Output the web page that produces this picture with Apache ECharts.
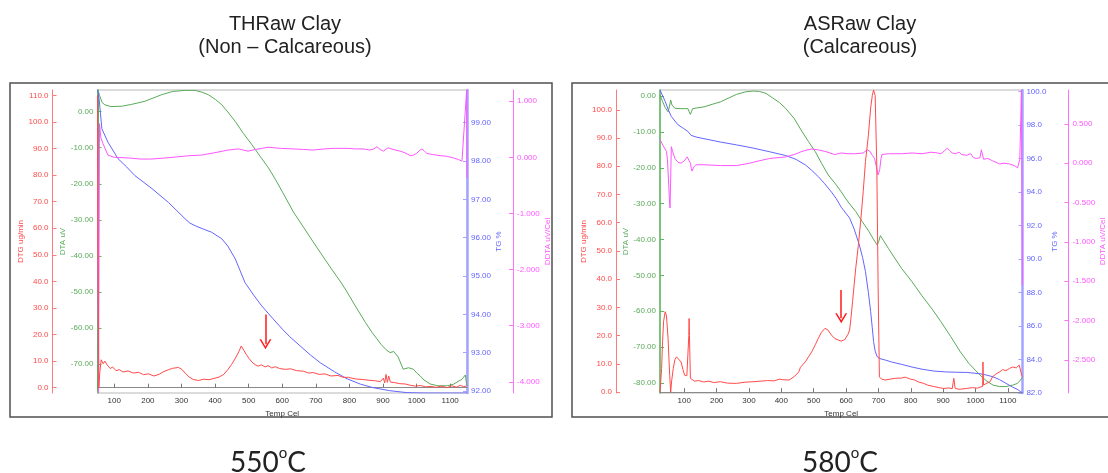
<!DOCTYPE html>
<html>
<head>
<meta charset="utf-8">
<script src="https://cdn.jsdelivr.net/npm/echarts@6.0.0/dist/echarts.min.js"></script>
<style>
  html, body { margin: 0; padding: 0; background: #fff; }
  #chart { width: 1108px; height: 473px; }
</style>
</head>
<body>
<div id="chart"></div>
<script>
const FONT = 'Liberation Sans'

// x axis (Temp Cel)
const tempTicks = [100, 200, 300, 400, 500, 600, 700, 800, 900, 1000, 1100]
const thTempRange = [50, 1150]
const asTempRange = [25, 1145]

// THRaw Clay (non calcareous) - [temp, value]
const thDtg = [[50, 110], [51, 60], [54, 0], [57, 6], [61, 10.5], [67, 9], [72, 10], [79, 8.5], [88, 7.2], [95, 7.8],
  [105, 6.4], [115, 6.8], [126, 5.9], [141, 6.3], [157, 5.5], [172, 5.8], [187, 4.9], [202, 5.2], [218, 4.4], [233, 5.0],
  [248, 6.1], [262, 6.8], [274, 7.3], [291, 7.6], [301, 6.9], [311, 5.5], [323, 4.0], [335, 3.1], [351, 2.7], [366, 3.2],
  [382, 3.0], [397, 3.5], [412, 4.0], [426, 5.0], [438, 6.8], [449, 8.7], [460, 11.0], [471, 13.6], [478, 15.7], [485, 14.2],
  [493, 12.5], [501, 11.0], [510, 9.6], [519, 8.7], [528, 8.1], [538, 8.6], [549, 7.8], [558, 8.3], [569, 7.4], [579, 7.9],
  [592, 7.2], [609, 6.9], [625, 7.1], [643, 6.4], [663, 6.2], [679, 5.5], [692, 5.7], [710, 5.0], [727, 5.2], [745, 4.4],
  [766, 4.6], [781, 3.9], [797, 3.9], [817, 3.3], [838, 3.1], [858, 2.8], [877, 2.6], [892, 2.3], [901, 3.6], [905, 1.8],
  [909, 5.0], [913, 2.0], [917, 4.4], [922, 2.1], [935, 1.9], [950, 1.5], [966, 1.4], [981, 0.9], [996, 0.6], [1012, 0.8],
  [1027, 0.3], [1043, 0.5], [1058, 0.1], [1073, 0.6], [1091, 0.0], [1104, 0.7], [1119, 0.2], [1130, 0.9], [1140, 0.4], [1148, 0.6]]
const thDta = [[50, -77], [53, 5.5], [56, 4.5], [64, 2.5], [72, 1.9], [90, 1.4], [122, 1.5], [151, 2.0], [192, 2.9], [241, 4.7],
  [274, 5.6], [311, 5.9], [341, 5.9], [361, 5.4], [380, 4.7], [402, 3.3], [420, 1.9], [438, -0.1], [460, -2.7], [484, -6.0],
  [510, -9.2], [535, -12.5], [559, -15.6], [581, -19.0], [602, -22.5], [633, -27.8], [663, -32.0], [692, -36.1], [715, -39.3],
  [745, -43.4], [776, -47.5], [793, -50], [817, -53.8], [848, -58.5], [868, -61.3], [882, -63], [894, -64.5], [909, -66],
  [921, -66.8], [932, -66.5], [945, -68], [960, -71.4], [976, -71.0], [990, -71.4], [1001, -72.5], [1011, -73.3], [1022, -74.4],
  [1040, -75.5], [1063, -76], [1091, -76], [1109, -75.6], [1120, -75], [1135, -74.2], [1145, -73], [1148, -75], [1150, -76]]
const thTg = [[50, 99.9], [55, 99.6], [63, 98.84], [81, 98.49], [111, 98.06], [136, 97.85], [161, 97.62], [212, 97.28],
  [261, 96.92], [311, 96.49], [325, 96.38], [341, 96.31], [366, 96.22], [390, 96.14], [420, 95.97], [438, 95.78], [460, 95.45],
  [475, 95.13], [489, 94.83], [515, 94.5], [539, 94.22], [571, 93.9], [602, 93.6], [622, 93.42], [653, 93.18], [684, 92.94],
  [713, 92.74], [756, 92.5], [793, 92.32], [833, 92.18], [870, 92.09], [920, 92.01], [971, 91.96], [1022, 91.95], [1150, 91.95]]
const thDdta = [[50, 0.5], [53, -4.2], [56, 0.6], [60, 0.35], [66, 0.25], [81, 0.04], [100, 0.0], [141, -0.01], [177, -0.03],
  [212, -0.03], [254, -0.01], [290, 0.01], [325, 0.03], [360, 0.04], [397, 0.08], [439, 0.13], [469, 0.15], [484, 0.13],
  [498, 0.11], [520, 0.14], [558, 0.18], [594, 0.16], [633, 0.15], [663, 0.14], [692, 0.13], [725, 0.15], [756, 0.16],
  [793, 0.16], [817, 0.15], [842, 0.15], [861, 0.13], [873, 0.15], [882, 0.19], [891, 0.14], [901, 0.11], [915, 0.17],
  [930, 0.14], [951, 0.11], [966, 0.08], [981, 0.03], [991, 0.04], [1000, 0.07], [1010, 0.13], [1016, 0.15], [1022, 0.12],
  [1030, 0.07], [1048, 0.05], [1070, 0.03], [1089, 0.02], [1110, -0.01], [1125, -0.04], [1135, -0.07], [1139, -0.05],
  [1149, 1.2], [1150, -0.37]]

// ASRaw Clay (calcareous) - [temp, value]
const asDtg = [[25, 0], [28, 5], [30, 8.4], [33, 18], [36, 25], [41, 28.5], [45, 27], [50, 19], [53, 11], [55, 6], [58, 0],
  [61, 4], [66, 8.4], [71, 11.5], [76, 12.5], [82, 12.2], [90, 10.7], [96, 8], [101, 6.0], [108, 5.8], [112, 6.5], [114, 20],
  [115, 26.1], [116, 20], [119, 4.9], [125, 4.2], [131, 3.9], [145, 4.1], [160, 3.6], [176, 3.9], [191, 3.4], [212, 3.7],
  [233, 3.2], [262, 3.1], [285, 3.5], [313, 3.7], [337, 3.9], [357, 4.1], [378, 4.0], [394, 4.6], [399, 5.2], [404, 4.4],
  [424, 4.3], [440, 5.5], [454, 7.2], [459, 8.8], [463, 8.2], [474, 10.7], [484, 12.5], [494, 14.3], [505, 16.8], [514, 19],
  [524, 21.2], [535, 22.6], [544, 22], [555, 20.2], [565, 19.0], [575, 18.5], [585, 18.1], [596, 18.6], [606, 20.5], [611, 22],
  [615, 26], [620, 32], [625, 38], [630, 44], [638, 52], [646, 61.6], [653, 71], [660, 81.7], [669, 91], [676, 100.6],
  [681, 105], [685, 107], [690, 105], [695, 80], [699, 38], [703, 5.4], [710, 4.6], [721, 4.3], [736, 4.6], [752, 4.9],
  [772, 5.0], [783, 5.3], [799, 4.6], [812, 4.3], [824, 3.6], [840, 3.1], [852, 2.5], [871, 2.0], [887, 1.6], [902, 1.3],
  [918, 1.5], [928, 1.2], [933, 4.9], [937, 1.4], [949, 1.0], [973, 1.3], [990, 1.6], [1006, 1.4], [1014, 1.8], [1022, 2.0],
  [1023, 10.7], [1025, 2.5], [1032, 3.0], [1045, 3.7], [1053, 5.5], [1063, 6.4], [1075, 7.2], [1084, 8.0], [1094, 7.6],
  [1105, 8.4], [1115, 8.9], [1126, 8.6], [1135, 9.6], [1140, 9.0], [1143, 6], [1145, 5.5]]
const asDta = [[25, 0.3], [33, -1.5], [41, -3.2], [50, -4.4], [54, -3], [58, -1.1], [62, -2.5], [71, -3.4], [87, -3.5],
  [111, -3.5], [115, -4], [119, -5.1], [123, -4.2], [126, -3.5], [139, -3.3], [161, -3.0], [186, -2.3], [212, -1.6], [238, -0.5],
  [262, 0.5], [290, 1.2], [313, 1.4], [332, 1.3], [353, 0.75], [373, -0.5], [394, -1.8], [413, -3.4], [440, -6.3], [464, -9.9],
  [484, -12.7], [505, -15.5], [524, -18.7], [545, -22], [570, -24.8], [585, -26.7], [606, -29.5], [630, -32.2], [650, -35],
  [671, -37.8], [684, -39.8], [696, -41.5], [701, -40.5], [706, -38.9], [715, -40.2], [731, -42.5], [752, -45.4], [772, -48.1],
  [804, -51.8], [833, -55.5], [866, -59.4], [893, -62.9], [923, -67.0], [953, -71.3], [980, -74.6], [1014, -77.8], [1032, -79.3],
  [1054, -80.6], [1074, -81], [1094, -81.0], [1115, -80.6], [1130, -80.1], [1136, -79.5], [1143, -78.7], [1145, -78.4]]
const asTg = [[25, 100.1], [41, 99.42], [51, 98.9], [60, 98.52], [80, 98.03], [98, 97.8], [111, 97.63], [121, 97.39],
  [139, 97.28], [161, 97.19], [212, 96.99], [262, 96.82], [313, 96.63], [364, 96.41], [413, 96.19], [446, 95.95], [474, 95.63],
  [494, 95.3], [514, 94.93], [534, 94.5], [555, 94.0], [570, 93.6], [585, 93.1], [599, 92.75], [611, 92.45], [625, 91.8],
  [641, 90.85], [651, 90.1], [660, 89.25], [669, 88.0], [676, 86.86], [681, 85.9], [685, 85.07], [690, 84.5], [696, 84.17],
  [705, 84.05], [721, 83.97], [741, 83.85], [772, 83.71], [804, 83.55], [835, 83.42], [872, 83.31], [908, 83.26], [939, 83.24],
  [973, 83.23], [1014, 83.15], [1032, 83.08], [1054, 82.97], [1074, 82.8], [1094, 82.58], [1115, 82.35], [1131, 82.2],
  [1140, 82.07], [1145, 82.02]]
const asDdta = [[25, 0.30], [35, 0.22], [45, 0.15], [48, 0.05], [51, -0.19], [54, -0.45], [56, -0.57], [58, -0.2], [60, 0.21],
  [64, 0.15], [71, 0.06], [81, 0.01], [90, 0.0], [100, 0.03], [106, 0.04], [109, 0.08], [111, 0.10], [114, 0.06], [119, 0.0],
  [122, -0.07], [124, -0.10], [129, -0.05], [136, -0.02], [161, -0.02], [212, -0.03], [262, -0.03], [302, 0.0], [331, 0.03],
  [364, 0.06], [413, 0.08], [440, 0.11], [464, 0.15], [482, 0.17], [494, 0.18], [513, 0.17], [535, 0.15], [565, 0.11],
  [585, 0.13], [606, 0.12], [630, 0.12], [653, 0.13], [666, 0.17], [674, 0.15], [681, 0.10], [688, 0.06], [694, -0.05],
  [699, -0.15], [704, -0.08], [708, 0.06], [711, 0.11], [731, 0.12], [772, 0.12], [804, 0.13], [835, 0.12], [863, 0.14],
  [882, 0.13], [893, 0.12], [905, 0.16], [913, 0.19], [920, 0.16], [928, 0.13], [939, 0.12], [949, 0.14], [957, 0.11],
  [973, 0.10], [985, 0.12], [994, 0.07], [1003, 0.06], [1014, 0.07], [1018, 0.17], [1022, 0.16], [1025, 0.05], [1029, 0.03],
  [1038, 0.06], [1053, 0.03], [1075, -0.01], [1089, 0.0], [1105, -0.01], [1120, -0.03], [1130, -0.06], [1137, 0.05],
  [1142, 0.93], [1145, -1.55]]

// arrows marking the onset temperature (temp, DTG from -> to)
const thArrow = [[550, 27.5], [550, 16.3]]
const asArrow = [[585, 36.2], [585, 26.2]]

// y axis tick values
const thDtgTicks = [0, 10, 20, 30, 40, 50, 60, 70, 80, 90, 100, 110]
const thDtaTicks = [0, -10, -20, -30, -40, -50, -60, -70]
const thTgTicks = [92, 93, 94, 95, 96, 97, 98, 99]
const thDdtaTicks = [1, 0, -1, -2, -3, -4]
const asDtgTicks = [0, 10, 20, 30, 40, 50, 60, 70, 80, 90, 100]
const asDtaTicks = [0, -10, -20, -30, -40, -50, -60, -70, -80]
const asTgTicks = [82, 84, 86, 88, 90, 92, 94, 96, 98, 100]
const asDdtaTicks = [0.5, 0, -0.5, -1, -1.5, -2, -2.5]

const RED = '#ff4a4a'
const GREEN = '#5aaa5a'
const BLUE = '#6464ff'
const MAGENTA = '#ff55ff'

function yAxisOf(gridIndex, position, offset, name, color, lineColor, lineWidth, range, ticks, digits, nameGap) {
  return {
    type: 'value',
    gridIndex,
    position,
    offset,
    name,
    min: range[0],
    max: range[1],
    nameLocation: 'middle',
    nameGap,
    nameRotate: 90,
    nameTextStyle: { color, fontSize: 8, fontFamily: FONT },
    axisLine: { show: true, onZero: false, lineStyle: { color: lineColor, width: lineWidth } },
    axisTick: { show: true, inside: true, length: 4, customValues: ticks, lineStyle: { color: lineColor } },
    axisLabel: {
      color, fontSize: 8, margin: 4, fontFamily: FONT, customValues: ticks,
      formatter: v => v.toFixed(digits)
    },
    splitLine: { show: false }
  }
}

function xAxisOf(gridIndex, range) {
  return {
    type: 'value',
    gridIndex,
    min: range[0],
    max: range[1],
    name: 'Temp Cel',
    nameLocation: 'middle',
    nameGap: 14,
    nameTextStyle: { color: '#333', fontSize: 8, fontFamily: FONT },
    axisLine: { lineStyle: { color: '#8a8a8a' } },
    axisTick: { inside: true, length: 4, customValues: tempTicks, lineStyle: { color: '#777' } },
    axisLabel: {
      color: '#333', fontSize: 8, margin: 4, fontFamily: FONT, customValues: tempTicks,
      formatter: v => String(v)
    },
    splitLine: { show: false }
  }
}

function lineOf(data, x, y, color) {
  return {
    type: 'line',
    xAxisIndex: x,
    yAxisIndex: y,
    data,
    symbol: 'none',
    lineStyle: { color, width: 1 },
    itemStyle: { color },
    silent: true
  }
}

function arrowOf(points) {
  return {
    silent: true,
    symbol: ['none', 'path://M0,10 L5,0 L10,10 L8.6,10 L5,2.8 L1.4,10 Z'],
    symbolSize: [12, 10],
    lineStyle: { color: '#ff1a1a', width: 1.5, type: 'solid' },
    label: { show: false },
    data: [[{ coord: points[0] }, { coord: points[1] }]]
  }
}

const titleStyle = { fontSize: 20, fontWeight: 'normal', fontFamily: FONT, color: '#222', lineHeight: 23 }
const tempRich = {
  n: { fontSize: 28, fontWeight: 'normal', fontFamily: 'Lato', color: '#222', lineHeight: 34 },
  s: { fontSize: 15, fontWeight: 'normal', fontFamily: 'Lato', color: '#222', lineHeight: 34, verticalAlign: 'top', padding: [0, 0, 12, 0] }
}

const chart = echarts.init(document.getElementById('chart'))
const thSeries = [
  lineOf(thDta, 0, 1, GREEN),
  lineOf(thTg, 0, 2, BLUE),
  lineOf(thDdta, 0, 3, MAGENTA),
  Object.assign(lineOf(thDtg, 0, 0, RED), { markLine: arrowOf(thArrow) })
]
const asSeries = [
  lineOf(asDta, 1, 5, GREEN),
  lineOf(asTg, 1, 6, BLUE),
  lineOf(asDdta, 1, 7, MAGENTA),
  Object.assign(lineOf(asDtg, 1, 4, RED), { markLine: arrowOf(asArrow) })
]

chart.setOption({
  animation: false,
  backgroundColor: '#fff',
  title: [
    { text: 'THRaw Clay\n(Non – Calcareous)', left: 280, top: 8, textAlign: 'center', textStyle: titleStyle },
    { text: 'ASRaw Clay\n(Calcareous)', left: 855, top: 8, textAlign: 'center', textStyle: titleStyle },
    { text: '{n|550}{s|o}{n|C}', left: 263, top: 441, textAlign: 'center', textStyle: { fontWeight: 'normal', rich: tempRich } },
    { text: '{n|580}{s|o}{n|C}', left: 835, top: 441, textAlign: 'center', textStyle: { fontWeight: 'normal', rich: tempRich } }
  ],
  graphic: [
    { type: 'rect', shape: { x: 10, y: 83, width: 542, height: 334 }, style: { fill: 'none', stroke: '#505050', lineWidth: 1.5 }, z: -1 },
    { type: 'rect', shape: { x: 572, y: 83, width: 545, height: 334 }, style: { fill: 'none', stroke: '#505050', lineWidth: 1.5 }, z: -1 }
  ],
  grid: [
    { left: 97.5, top: 90, width: 369.5, height: 303, show: true, borderColor: '#b8b8b8', borderWidth: 1 },
    { left: 660, top: 90, width: 370, height: 303, show: true, borderColor: '#b8b8b8', borderWidth: 1 }
  ],
  xAxis: [xAxisOf(0, thTempRange), xAxisOf(1, asTempRange)],
  yAxis: [
    yAxisOf(0, 'left', 45, 'DTG ug/min', RED, '#ff7a7a', 1, [-2, 112], thDtgTicks, 1, 24),
    yAxisOf(0, 'left', 0, 'DTA uV', GREEN, '#5cb85c', 1.5, [-78, 6], thDtaTicks, 2, 25),
    yAxisOf(0, 'right', 0, 'TG %', BLUE, '#a4a4ff', 2.5, [91.95, 99.85], thTgTicks, 2, 24),
    yAxisOf(0, 'right', 46, 'DDTA uV/Cel', MAGENTA, '#ff70ff', 1, [-4.2, 1.2], thDdtaTicks, 3, 22),
    yAxisOf(1, 'left', 44, 'DTG ug/min', RED, '#ff7a7a', 1, [-0.3, 107], asDtgTicks, 1, 25),
    yAxisOf(1, 'left', 0, 'DTA uV', GREEN, '#5cb85c', 1.5, [-82.8, 1.7], asDtaTicks, 2, 24),
    yAxisOf(1, 'right', 0, 'TG %', BLUE, '#a4a4ff', 2.5, [82, 100.1], asTgTicks, 1, 24),
    yAxisOf(1, 'right', 46, 'DDTA uV/Cel', MAGENTA, '#ff70ff', 1, [-2.92, 0.93], asDdtaTicks, 3, 23)
  ],
  series: thSeries.concat(asSeries)
})
</script>
</body>
</html>
